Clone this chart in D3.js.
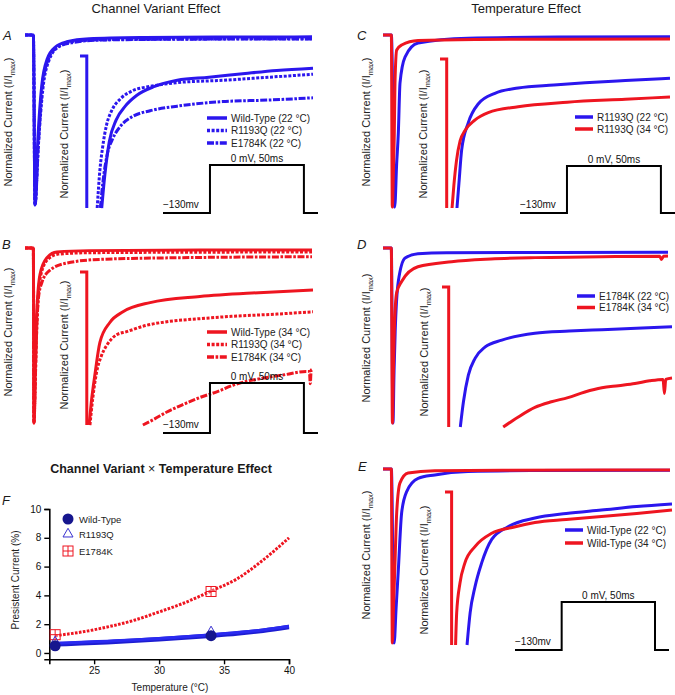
<!DOCTYPE html>
<html><head><meta charset="utf-8">
<script src="https://cdn.jsdelivr.net/npm/d3@7/dist/d3.min.js"></script>
<style>
body{margin:0;background:#fff;}
text{font-family:"Liberation Sans",Arial,Helvetica,sans-serif;}
</style></head>
<body><svg id="fig" width="675" height="695"></svg>
<script>
// ---------------- DATA ----------------
// time in ms, current in % of Imax (negative = inward)
const timeDomain = [-1.5, 50];
const mainDomain = [0, -100];
const insetDomain = [0, -10];
const insetHook = [[-1.5, 0], [0, 0], [0, -10]];

// Panel A (22 °C)
const aWildTypeMain = [[-1.5,0],[0,0],[0.3,-100],[0.8,-62],[1.5,-30],[2.5,-14],[4,-7],[6,-4],[10,-2.2],[20,-1.5],[35,-1.2],[50,-1.1]];
const aR1193QMain   = [[-1.5,0],[0,0],[0.3,-100],[0.9,-65],[1.7,-32],[2.8,-15],[4.5,-7],[7,-4],[12,-2.8],[25,-2.4],[50,-2.2]];
const aE1784KMain   = [[-1.5,0],[0,0],[0.3,-100],[0.9,-64],[1.6,-31],[2.6,-15],[4.2,-7.5],[7,-4.5],[12,-3],[25,-2.5],[50,-2.3]];
const aWildTypeInset = [[3.3,-10],[4.0,-7.8],[5.0,-5.6],[6.5,-4.2],[8.5,-3.3],[11,-2.6],[15,-2.0],[20,-1.6],[27,-1.4],[35,-1.15],[42,-0.95],[50,-0.8]];
const aR1193QInset   = [[2.3,-10],[2.9,-7.5],[3.5,-6.0],[4.4,-4.5],[5.5,-3.6],[7.5,-2.8],[10,-2.3],[14,-2.0],[20,-1.75],[30,-1.6],[40,-1.4],[50,-1.2]];
const aE1784KInset   = [[3.0,-10],[3.6,-8.2],[4.5,-6.5],[5.8,-5.4],[7.5,-4.6],[10,-4.0],[14,-3.6],[20,-3.3],[30,-3.0],[40,-2.9],[50,-2.75]];

// Panel B (34 °C)
const bWildTypeMain = [[-1.5,0],[0,0],[0.1,-100],[0.35,-70],[0.6,-38],[1.2,-15],[2.4,-5.7],[4.2,-2.3],[10,-1.5],[30,-1.2],[50,-1.1]];
const bR1193QMain   = [[-1.5,0],[0,0],[0.1,-100],[0.4,-70],[0.7,-38],[1.3,-16],[2.6,-6.5],[4.5,-3.5],[10,-2.7],[30,-2.4],[50,-2.3]];
const bE1784KMain   = [[-1.5,0],[0,0],[0.1,-100],[0.5,-55],[0.9,-29],[1.5,-20],[3,-12.6],[6,-8.6],[12,-6.5],[25,-5.6],[50,-5.0]];
const bWildTypeInset = [[0.5,-10],[1.0,-8.5],[1.8,-6.7],[2.9,-4.6],[5.1,-3.3],[8,-2.6],[14,-2.0],[25,-1.6],[38,-1.35],[50,-1.18]];
const bR1193QInset   = [[0.7,-10],[1.3,-8.3],[2.2,-6.5],[3.2,-5.5],[4.4,-4.8],[6.6,-4.1],[8.8,-3.9],[13,-3.5],[17.7,-3.25],[25,-3.05],[32,-2.9],[42,-2.75],[50,-2.6]];
const bE1784KInset   = [[12.4,-10],[15,-9.6],[17.7,-9.15],[21,-8.7],[25,-8.2],[29,-7.8],[32.3,-7.4],[36,-7.1],[39.8,-6.9],[44,-6.7],[48.5,-6.5],[49.2,-6.5],[49.4,-7.3],[49.6,-6.4],[50,-6.35]];

// Panel C (R1193Q)
const cR1193Q22Main = [[-1.5,0],[0,0],[0.6,-100],[0.95,-75],[1.25,-57],[1.55,-28],[2.45,-12.8],[4.8,-4.7],[13.75,-1.9],[30,-1.2],[50,-1.0]];
const cR1193Q34Main = [[-1.5,0],[0,0],[0.17,-100],[0.4,-75],[0.53,-57],[0.65,-28],[0.96,-8.7],[1.85,-5.8],[4.8,-3.2],[15,-2.6],[30,-2.4],[50,-2.3]];
const cR1193Q22Inset = [[2.3,-10],[2.75,-8.3],[3.35,-6.1],[4.8,-4.3],[7.1,-3.0],[10.8,-2.3],[16,-1.95],[24,-1.75],[31,-1.6],[40,-1.45],[50,-1.3]];
const cR1193Q34Inset = [[1.2,-10],[1.6,-8.5],[2.2,-6.8],[3.0,-5.5],[4.1,-4.8],[6.3,-4.1],[9.3,-3.6],[16,-3.2],[27,-2.9],[40,-2.7],[50,-2.55]];

// Panel D (E1784K)
const dE1784K22Main = [[-1.5,0],[0,0],[0.3,-100],[0.5,-70],[0.7,-48],[1.27,-19],[2.5,-5.7],[4.8,-3.3],[10,-2.7],[30,-2.5],[50,-2.4]];
const dE1784K34Main = [[-1.5,0],[0,0],[0.2,-100],[0.35,-75],[0.54,-48],[0.97,-25.5],[1.9,-19],[4.8,-10.7],[10.9,-7.8],[18,-6.3],[26,-5.5],[38,-5.0],[48.5,-4.7],[48.8,-6.5],[49.2,-4.7],[50,-4.6]];
const dE1784K22Inset = [[2.6,-10],[3.3,-8.2],[4.4,-6.3],[5.9,-5.1],[8.1,-4.3],[11.9,-3.8],[19.3,-3.3],[27,-3.15],[34.3,-3.05],[42,-2.95],[50,-2.84]];
const dE1784K34Inset = [[12.2,-10],[15.5,-9.3],[19.3,-8.6],[23,-8.2],[26.7,-7.9],[30.5,-7.5],[34.3,-7.2],[38,-7.05],[41.7,-6.9],[45,-6.7],[48,-6.6],[48.3,-7.6],[48.6,-6.6],[50,-6.5]];

// Panel E (Wild-Type)
const eWildType22Main = [[-1.5,0],[0,0],[0.5,-100],[0.85,-80],[1.25,-58],[1.85,-25],[2.75,-13],[4.8,-5.4],[7.8,-3.4],[13.75,-1.5],[25,-0.9],[50,-0.7]];
const eWildType34Main = [[-1.5,0],[0,0],[0.17,-100],[0.4,-78],[0.65,-54],[0.96,-25],[1.55,-8],[3,-2.3],[7.8,-1.0],[20,-0.7],[50,-0.6]];
const eWildType22Inset = [[3.5,-10],[4.2,-7.9],[5.3,-6.2],[6.8,-4.65],[9.1,-3.1],[12.8,-2.27],[18.9,-1.7],[26,-1.4],[34,-1.18],[42,-0.95],[50,-0.78]];
const eWildType34Inset = [[0.9,-10],[1.15,-7.9],[1.9,-5.95],[3.0,-4.65],[5.3,-3.57],[9.1,-2.7],[14,-2.3],[18.9,-2.0],[26,-1.8],[34,-1.6],[42,-1.4],[50,-1.18]];

// Voltage protocol
const protocolTimes = [-25, 0, 0, 50, 50, 57.5];
const protocolVolts = [-130, -130, 0, 0, -130, -130];

// Panel F
const fTickTemps = [25, 30, 35, 40];
const fTickPct = [0, 2, 4, 6, 8, 10];
const fMeasuredTemps = [22, 34];
const fWildTypePct = [0.5, 1.2];
const fR1193QPct = [0.8, 1.5];
const fE1784KPct = [1.27, 4.27];
const fFitTemps = [22, 24, 26, 28, 30, 32, 34, 36, 38, 40];
const fE1784KFit = [1.2, 1.45, 1.8, 2.25, 2.85, 3.5, 4.3, 5.15, 6.45, 8.0];
const fWildTypeFit = [0.6, 0.67, 0.75, 0.84, 0.95, 1.07, 1.2, 1.35, 1.55, 1.8];
const fR1193QFit = [0.68, 0.74, 0.82, 0.9, 1.0, 1.12, 1.27, 1.42, 1.6, 1.85];

// ---------------- STYLE / LAYOUT ----------------
const BLUE = "#2b16ee", RED = "#ee1520", INK = "#1a1a1a";
const DOT = "3,1.6", DASHDOT = "7,1.6,2.6,1.6";
const svg = d3.select("#fig");

const panels = [
  { letter:"A", lx:3, ly:40,
    main:{x:[25,312], y:[35,205]}, inset:{x:[80,313], y:[56,208]},
    ylab:[[12,122],[68,134]], hookColor:BLUE,
    series:[
      {label:"E1784K (22 °C)", color:BLUE, dash:DASHDOT, main:aE1784KMain, inset:aE1784KInset},
      {label:"R1193Q (22 °C)", color:BLUE, dash:DOT, main:aR1193QMain, inset:aR1193QInset},
      {label:"Wild-Type (22 °C)", color:BLUE, dash:null, main:aWildTypeMain, inset:aWildTypeInset}],
    legend:{x:207, len:20, y:118, dy:12.5, order:[2,1,0]},
    proto:{x:[163,318], y:[213,165]} },
  { letter:"B", lx:2, ly:249,
    main:{x:[25,312], y:[248,423]}, inset:{x:[80,313], y:[272,425]},
    ylab:[[12,332],[68,345]], hookColor:RED,
    series:[
      {label:"E1784K (34 °C)", color:RED, dash:DASHDOT, main:bE1784KMain, inset:bE1784KInset},
      {label:"R1193Q (34 °C)", color:RED, dash:DOT, main:bR1193QMain, inset:bR1193QInset},
      {label:"Wild-Type (34 °C)", color:RED, dash:null, main:bWildTypeMain, inset:bWildTypeInset}],
    legend:{x:207, len:20, y:332, dy:12.5, order:[2,1,0]},
    proto:{x:[163,318], y:[433,383]} },
  { letter:"C", lx:357, ly:40,
    main:{x:[383,670], y:[35,207]}, inset:{x:[440,670], y:[59,208]},
    ylab:[[370,122],[427,134]], hookColor:RED,
    series:[
      {label:"R1193Q (22 °C)", color:BLUE, dash:null, main:cR1193Q22Main, inset:cR1193Q22Inset},
      {label:"R1193Q (34 °C)", color:RED, dash:null, main:cR1193Q34Main, inset:cR1193Q34Inset}],
    legend:{x:575, len:18, y:117, dy:12, order:[0,1]},
    proto:{x:[520,675], y:[213,166]} },
  { letter:"D", lx:357, ly:249,
    main:{x:[383,668], y:[248,423]}, inset:{x:[442,672], y:[287,427]},
    ylab:[[370,338],[428,352]], hookColor:RED,
    series:[
      {label:"E1784K (22 °C)", color:BLUE, dash:null, main:dE1784K22Main, inset:dE1784K22Inset},
      {label:"E1784K (34 °C)", color:RED, dash:null, main:dE1784K34Main, inset:dE1784K34Inset}],
    legend:{x:577, len:18, y:296, dy:11.5, order:[0,1]},
    proto:null },
  { letter:"E", lx:358, ly:471,
    main:{x:[383,670], y:[469,643]}, inset:{x:[445,672], y:[492,645]},
    ylab:[[370,555],[428,570]], hookColor:RED,
    series:[
      {label:"Wild-Type (22 °C)", color:BLUE, dash:null, main:eWildType22Main, inset:eWildType22Inset},
      {label:"Wild-Type (34 °C)", color:RED, dash:null, main:eWildType34Main, inset:eWildType34Inset}],
    legend:{x:565, len:18, y:530, dy:13, order:[0,1]},
    proto:{x:[515,669], y:[650,602]} }
];

// Titles
svg.append("text").attr("x",156).attr("y",13).attr("text-anchor","middle")
  .style("font-size","13px").attr("fill",INK).text("Channel Variant Effect");
svg.append("text").attr("x",526).attr("y",13).attr("text-anchor","middle")
  .style("font-size","13px").attr("fill",INK).text("Temperature Effect");

function yLabel(x, y) {
  const t = svg.append("text").attr("transform",`translate(${x},${y}) rotate(-90)`)
    .attr("text-anchor","middle").style("font-size","11px").attr("fill","#222");
  t.append("tspan").text("Normalized Current (I/I");
  t.append("tspan").attr("dy",3).style("font-size","7.5px").text("max");
  t.append("tspan").attr("dy",-3).text(")");
}

panels.forEach(p => {
  svg.append("text").attr("x",p.lx).attr("y",p.ly).style("font-size","13px")
    .style("font-style","italic").attr("fill",INK).text(p.letter);
  p.ylab.forEach(([x,y]) => yLabel(x,y));

  const xm = d3.scaleLinear().domain(timeDomain).range(p.main.x);
  const ym = d3.scaleLinear().domain(mainDomain).range(p.main.y);
  const xi = d3.scaleLinear().domain(timeDomain).range(p.inset.x);
  const yi = d3.scaleLinear().domain(insetDomain).range(p.inset.y);
  const lineM = d3.line().x(d=>xm(d[0])).y(d=>ym(d[1])).curve(d3.curveMonotoneX);
  const lineI = d3.line().x(d=>xi(d[0])).y(d=>yi(d[1])).curve(d3.curveMonotoneX);

  // inset hook
  svg.append("path").attr("d", d3.line().x(d=>xi(d[0])).y(d=>yi(d[1]))(insetHook))
    .attr("fill","none").attr("stroke",p.hookColor).attr("stroke-width",3);

  p.series.forEach(s => {
    svg.append("path").attr("d", lineM(s.main)).attr("fill","none")
      .attr("stroke", s.color).attr("stroke-width",3).attr("stroke-linejoin","round")
      .attr("stroke-dasharray", s.dash);
    svg.append("path").attr("d", lineI(s.inset)).attr("fill","none")
      .attr("stroke", s.color).attr("stroke-width",3).attr("stroke-linejoin","round")
      .attr("stroke-dasharray", s.dash);
  });

  // legend
  p.legend.order.forEach((k,i) => {
    const s = p.series[k], y = p.legend.y + i*p.legend.dy;
    svg.append("line").attr("x1",p.legend.x).attr("x2",p.legend.x+p.legend.len)
      .attr("y1",y).attr("y2",y).attr("stroke",s.color).attr("stroke-width",3.5)
      .attr("stroke-dasharray", s.dash);
    svg.append("text").attr("x",p.legend.x+p.legend.len+4).attr("y",y+3.6)
      .style("font-size","10px").attr("fill","#222").text(s.label);
  });

  // protocol
  if (p.proto) {
    const xp = d3.scaleLinear().domain([protocolTimes[0], protocolTimes[protocolTimes.length-1]]).range(p.proto.x);
    const yp = d3.scaleLinear().domain([-130, 0]).range(p.proto.y);
    const pts = protocolTimes.map((t,i)=>[t, protocolVolts[i]]);
    svg.append("path").attr("d", d3.line().x(d=>xp(d[0])).y(d=>yp(d[1]))(pts))
      .attr("fill","none").attr("stroke","#000").attr("stroke-width",2);
    svg.append("text").attr("x",xp(-25)).attr("y",yp(-130)-5).style("font-size","10px")
      .attr("fill","#111").text("\u2212130mv");
    svg.append("text").attr("x",xp(25)).attr("y",yp(0)-3.5).attr("text-anchor","middle")
      .style("font-size","10px").attr("fill","#111").text("0 mV, 50ms");
  }
});

// ---------------- PANEL F ----------------
const ft = svg.append("text").attr("x",161).attr("y",473).attr("text-anchor","middle")
  .style("font-size","12.5px").style("font-weight","bold").attr("fill",INK);
ft.append("tspan").text("Channel Variant ");
ft.append("tspan").style("font-weight","normal").text("\u00d7");
ft.append("tspan").text(" Temperature Effect");
svg.append("text").attr("x",2).attr("y",505).style("font-size","13px")
  .style("font-style","italic").attr("fill",INK).text("F");

const fx = d3.scaleLinear().domain([21.55, 40]).range([49.3, 289]);
const fy = d3.scaleLinear().domain([-0.44, 10]).range([659.3, 509]);

const gx = svg.append("g").attr("transform","translate(0,659.3)")
  .call(d3.axisBottom(fx).tickValues(fTickTemps).tickSize(5).tickPadding(3).tickFormat(d3.format("d")));
const gy = svg.append("g").attr("transform","translate(49.3,0)")
  .call(d3.axisLeft(fy).tickValues(fTickPct).tickSize(5).tickPadding(3).tickFormat(d3.format("d")));
[gx,gy].forEach(g=>{
  g.select(".domain").attr("stroke","#000").attr("stroke-width",1.6);
  g.selectAll(".tick line").attr("stroke","#000").attr("stroke-width",1.4);
  g.selectAll(".tick text").style("font-size","10px").attr("fill","#111")
   .style("font-family","'Liberation Sans',Arial,sans-serif");
});
svg.append("text").attr("x",170).attr("y",691).attr("text-anchor","middle")
  .style("font-size","10px").attr("fill","#222").text("Temperature (°C)");
svg.append("text").attr("transform","translate(19,580) rotate(-90)").attr("text-anchor","middle")
  .style("font-size","10px").attr("fill","#222").text("Presistent Current (%)");

const fLine = arr => d3.line().x((d,i)=>fx(fFitTemps[i])).y(d=>fy(d)).curve(d3.curveMonotoneX)(arr);
svg.append("path").attr("d", fLine(fWildTypeFit)).attr("fill","none")
  .attr("stroke","#1d1dd0").attr("stroke-width",4.5);
svg.append("path").attr("d", fLine(fR1193QFit)).attr("fill","none")
  .attr("stroke","#2a2af0").attr("stroke-width",3);
svg.append("path").attr("d", fLine(fE1784KFit)).attr("fill","none")
  .attr("stroke",RED).attr("stroke-width",3).attr("stroke-dasharray","2.6,1.4");

function squareMark(g, x, y, s) {
  g.append("rect").attr("x",x-s/2).attr("y",y-s/2).attr("width",s).attr("height",s)
    .attr("fill","rgba(255,255,255,0.3)").attr("stroke",RED).attr("stroke-width",1);
  g.append("line").attr("x1",x-s/2).attr("x2",x+s/2).attr("y1",y).attr("y2",y).attr("stroke",RED).attr("stroke-width",1);
  g.append("line").attr("x1",x).attr("x2",x).attr("y1",y-s/2).attr("y2",y+s/2).attr("stroke",RED).attr("stroke-width",1);
}
function triMark(g, x, y, s) {
  const h = s*0.87;
  g.append("path").attr("d",`M${x},${y-h*0.6}L${x+s/2},${y+h*0.4}L${x-s/2},${y+h*0.4}Z`)
    .attr("fill","none").attr("stroke","#3a32d0").attr("stroke-width",1);
}
const mk = svg.append("g");
fMeasuredTemps.forEach((t,i)=>{
  squareMark(mk, fx(t), fy(fE1784KPct[i]), 10);
  triMark(mk, fx(t), fy(fR1193QPct[i]), 10);
  mk.append("circle").attr("cx",fx(t)).attr("cy",fy(fWildTypePct[i])).attr("r",5.5).attr("fill","#16168e");
});
// legend F
const lg = svg.append("g");
lg.append("circle").attr("cx",68).attr("cy",519).attr("r",5.5).attr("fill","#16168e");
triMark(lg, 68, 533.5, 10);
squareMark(lg, 68, 551, 10);
[["Wild-Type",519],["R1193Q",534],["E1784K",551]].forEach(([t,y])=>{
  lg.append("text").attr("x",79).attr("y",y+3.5).style("font-size","9.5px").attr("fill","#222").text(t);
});
</script></body></html>
